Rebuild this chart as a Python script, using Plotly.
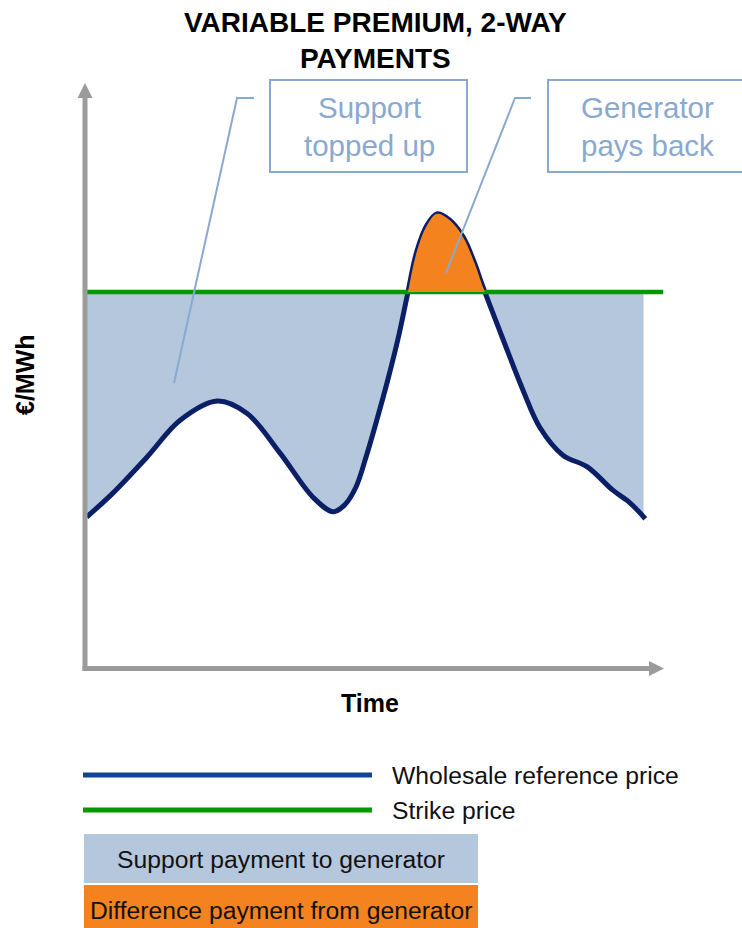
import plotly.graph_objects as go

# Wholesale reference price over time (arbitrary units) and the strike price
time = [0.3, 4.8, 10.7, 16.4, 22.8, 27.9, 33.6, 39.3, 42.8, 44.8, 46.7, 48.4, 50.3,
        52.2, 54.0, 55.5, 57.2, 59.0, 60.7, 62.9, 65.2, 67.1, 68.6, 72.1, 75.5, 78.4,
        82.4, 86.6, 91.0, 94.0, 96.6]
wholesale = [25.9, 30.0, 36.2, 42.5, 45.8, 43.7, 36.9, 29.3, 26.8, 28.0, 31.0, 36.0, 42.5,
             49.4, 56.6, 63.6, 71.4, 76.0, 77.9, 76.8, 73.9, 69.6, 65.4, 56.3, 47.7, 41.3,
             36.5, 34.5, 30.5, 28.3, 25.6]
strike_price = 64.5
strike_span = [0.0, 99.7]
support_span = [0.0, 96.3]

title_lines = ["VARIABLE PREMIUM, 2-WAY", "PAYMENTS"]
legend_labels = ["Wholesale reference price", "Strike price",
                 "Support payment to generator", "Difference payment from generator"]

W, H = 742, 928
PL, PR, PT, PB = 85, 665, 85, 668  # plot area in pixels

NAVY = "#0b1f66"
NAVY_KEY = "#134494"
GREEN = "#009a00"
ORANGE = "#f4821f"
SUPPORT = "#b4c7dd"
GREY = "#9b9b9b"
CALLOUT = "#8aa9d0"
FONT = "Liberation Sans"


def fx(px):
    return (px - PL) / (PR - PL)


def fy(py):
    return (PB - py) / (PB - PT)


fig = go.Figure()

# support area: band below the strike price, cleared under the price curve
fig.add_trace(go.Scatter(x=support_span, y=[strike_price] * 2, mode="lines",
                         line=dict(width=0), fill="tozeroy", fillcolor=SUPPORT,
                         hoverinfo="skip"))
fig.add_trace(go.Scatter(x=time, y=wholesale, mode="lines",
                         line=dict(width=0, shape="spline"), fill="tozeroy",
                         fillcolor="white", hoverinfo="skip"))
# payback area: curve above the strike price (clipped by the upper sub-axis)
fig.add_trace(go.Scatter(x=time, y=wholesale, mode="lines", yaxis="y2",
                         line=dict(width=0, shape="spline"), fill="tozeroy",
                         fillcolor=ORANGE, hoverinfo="skip"))
# price curve and strike line
fig.add_trace(go.Scatter(x=time, y=wholesale, mode="lines",
                         line=dict(color=NAVY, width=5, shape="spline")))
fig.add_trace(go.Scatter(x=strike_span, y=[strike_price] * 2, mode="lines",
                         line=dict(color=GREEN, width=4.5)))

shapes = []
ann = []

# axes with arrowheads
shapes.append(dict(type="line", xref="paper", yref="paper", x0=fx(85), x1=fx(85),
                   y0=fy(671), y1=fy(96), line=dict(color=GREY, width=5), layer="above"))
shapes.append(dict(type="path", xref="paper", yref="paper",
                   path=f"M {fx(77.5)},{fy(98)} L {fx(85)},{fy(83)} L {fx(92.5)},{fy(98)} Z",
                   fillcolor=GREY, line=dict(width=0), layer="above"))
shapes.append(dict(type="line", xref="paper", yref="paper", x0=fx(82.5), x1=fx(651),
                   y0=fy(668.5), y1=fy(668.5), line=dict(color=GREY, width=5), layer="above"))
shapes.append(dict(type="path", xref="paper", yref="paper",
                   path=f"M {fx(649)},{fy(661)} L {fx(664)},{fy(668.5)} L {fx(649)},{fy(676)} Z",
                   fillcolor=GREY, line=dict(width=0), layer="above"))

# call-out boxes and leader lines
for (x0, x1), txt, cx, (hx1, hx0, ex, ey) in [
        ((270, 467), "Support<br>topped up", 369, (254, 237, 174, 383)),
        ((548, 745), "Generator<br>pays back", 647, (531, 515, 446, 273))]:
    shapes.append(dict(type="rect", xref="paper", yref="paper",
                       x0=fx(x0), x1=fx(x1), y0=fy(172), y1=fy(80),
                       line=dict(color=CALLOUT, width=2), fillcolor="white", layer="above"))
    shapes.append(dict(type="path", xref="paper", yref="paper",
                       path=f"M {fx(hx1)},{fy(98)} L {fx(hx0)},{fy(98)} L {fx(ex)},{fy(ey)}",
                       line=dict(color=CALLOUT, width=2), layer="above"))
    ann.append(dict(xref="paper", yref="paper", x=fx(cx), y=fy(126), text=txt,
                    showarrow=False, xanchor="center", yanchor="middle",
                    font=dict(family=FONT, size=29.5, color=CALLOUT)))

# title and axis labels
ann.append(dict(xref="paper", yref="paper", x=fx(375), y=fy(40),
                text="<br>".join(title_lines), showarrow=False,
                xanchor="center", yanchor="middle",
                font=dict(family=FONT, size=28, color="black", weight="bold")))
ann.append(dict(xref="paper", yref="paper", x=fx(25), y=fy(375), text="€/MWh",
                textangle=-90, showarrow=False, xanchor="center", yanchor="middle",
                font=dict(family=FONT, size=25, color="black", weight="bold")))
ann.append(dict(xref="paper", yref="paper", x=fx(370), y=fy(703), text="Time",
                showarrow=False, xanchor="center", yanchor="middle",
                font=dict(family=FONT, size=25, color="black", weight="bold")))

# key
for py, col, label in [(775, NAVY_KEY, legend_labels[0]), (810, GREEN, legend_labels[1])]:
    shapes.append(dict(type="line", xref="paper", yref="paper", x0=fx(83), x1=fx(372),
                       y0=fy(py), y1=fy(py), line=dict(color=col, width=5)))
    ann.append(dict(xref="paper", yref="paper", x=fx(390), y=fy(py), text=label,
                    showarrow=False, xanchor="left", yanchor="middle",
                    font=dict(family=FONT, size=24.7, color="#111111")))
for (y0, y1), col, label, ty in [((834, 883), SUPPORT, legend_labels[2], 859),
                                 ((885, 940), ORANGE, legend_labels[3], 910)]:
    shapes.append(dict(type="rect", xref="paper", yref="paper", x0=fx(84), x1=fx(478),
                       y0=fy(y1), y1=fy(y0), fillcolor=col, line=dict(width=0)))
    ann.append(dict(xref="paper", yref="paper", x=fx(281), y=fy(ty), text=label,
                    showarrow=False, xanchor="center", yanchor="middle",
                    font=dict(family=FONT, size=24.7, color="#111111")))

axis_off = dict(showgrid=False, zeroline=False, showticklabels=False, ticks="",
                showline=False)
fig.update_layout(
    width=W, height=H,
    margin=dict(l=PL, r=W - PR, t=PT, b=H - PB, pad=0),
    paper_bgcolor="white", plot_bgcolor="rgba(0,0,0,0)",
    showlegend=False,
    xaxis=dict(range=[0, 100], **axis_off),
    yaxis=dict(range=[0, 100], domain=[0, 1], **axis_off),
    yaxis2=dict(range=[strike_price, 100], domain=[strike_price / 100, 1],
                anchor="x", **axis_off),
    shapes=shapes, annotations=ann,
)

fig.write_html("out.html")
